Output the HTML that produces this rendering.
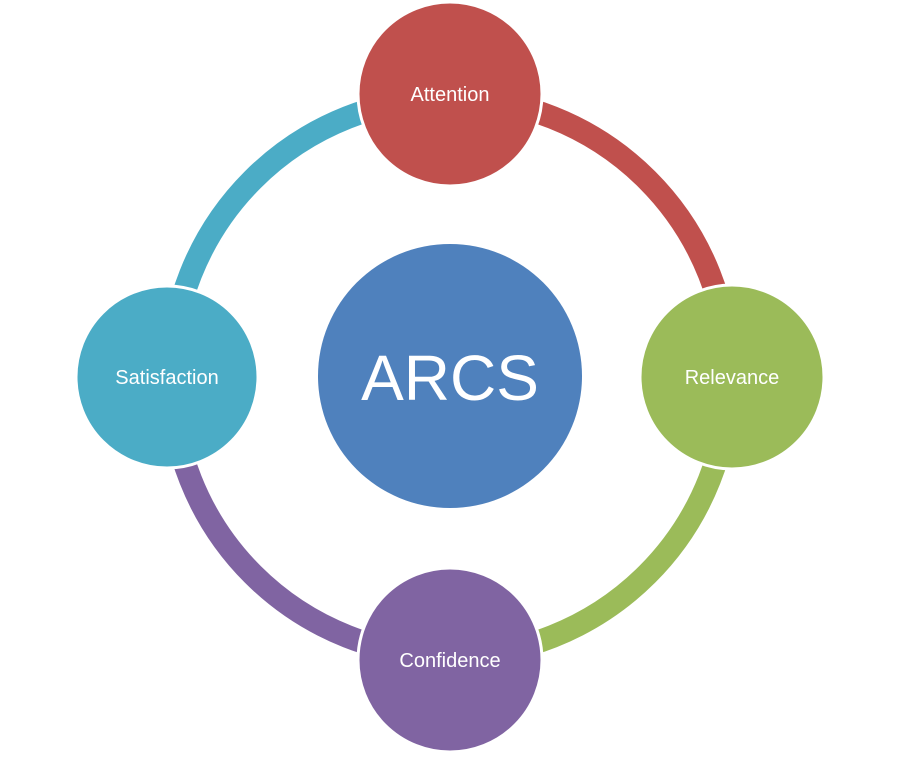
<!DOCTYPE html>
<html><head><style>html,body{margin:0;padding:0;background:#fff;}</style></head>
<body>
<svg width="900" height="756" viewBox="0 0 900 756" xmlns="http://www.w3.org/2000/svg" font-family="'Liberation Sans', sans-serif">
<g fill="none" stroke-width="23">
<path d="M450 98 A279 279 0 0 1 729 377" stroke="#C0504D"/>
<path d="M729 377 A279 279 0 0 1 450 656" stroke="#9BBB59"/>
<path d="M450 656 A279 279 0 0 1 171 377" stroke="#8064A2"/>
<path d="M171 377 A279 279 0 0 1 450 98" stroke="#4BACC6"/>
</g>
<circle cx="450" cy="376" r="132" fill="#4F81BD"/>
<g stroke="#fff" stroke-width="3">
<circle cx="450" cy="94" r="92" fill="#C0504D"/>
<circle cx="732" cy="377" r="92" fill="#9BBB59"/>
<circle cx="450" cy="660" r="92" fill="#8064A2"/>
<circle cx="167" cy="377" r="91" fill="#4BACC6"/>
</g>
<g fill="#fff" text-anchor="middle">
<text x="450" y="400" font-size="64">ARCS</text>
<text x="450" y="101" font-size="20">Attention</text>
<text x="732" y="384" font-size="20">Relevance</text>
<text x="450" y="667" font-size="20">Confidence</text>
<text x="167" y="384" font-size="20">Satisfaction</text>
</g>
</svg>
</body></html>
